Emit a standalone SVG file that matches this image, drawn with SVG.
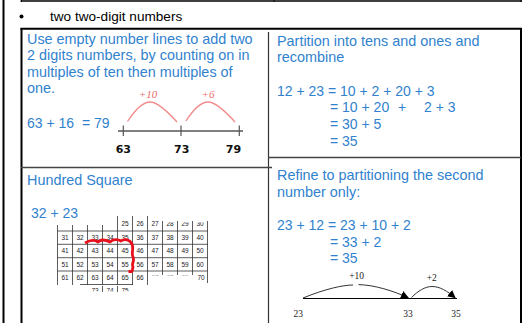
<svg xmlns="http://www.w3.org/2000/svg" width="524" height="323" viewBox="0 0 524 323">
<style>
.frame{stroke:#000;fill:none}
.blue{font-family:"Liberation Sans",Arial,sans-serif;fill:#3182ce;font-size:14.4px}
.math{font-family:"Liberation Sans",Arial,sans-serif;fill:#3182ce;font-size:14px}
.g{font-family:"Liberation Sans",Arial,sans-serif;font-size:6.5px;fill:#222;text-anchor:middle}
.gl{stroke:#333;stroke-width:0.8;fill:none}
.pink{stroke:#f28a8a;stroke-width:1.3;fill:none}
.red{font-family:"Liberation Serif","Times New Roman",serif;font-style:italic;font-size:11px;fill:#f06a6a;text-anchor:middle}
.bold{font-family:"DejaVu Sans",sans-serif;font-weight:bold;font-size:11px;fill:#111;text-anchor:middle}
.sm{font-family:"Liberation Serif","Times New Roman",serif;font-size:9.5px;fill:#222;text-anchor:middle}
.arc{stroke:#333;stroke-width:1;fill:none}
</style>
<defs>
<marker id="tri" markerUnits="userSpaceOnUse" markerWidth="8" markerHeight="8" refX="7" refY="4" orient="auto">
<path d="M0,0 L8,4 L0,8 z" fill="#000"/>
</marker>
<clipPath id="cTop"><rect x="160" y="222.2" width="50" height="10"/></clipPath>
<clipPath id="cMid"><rect x="150" y="272.5" width="45" height="3"/></clipPath>
<clipPath id="cBot"><rect x="85" y="285" width="45" height="6.2"/></clipPath>
</defs>

<!-- page frame -->
<g id="frame">
<line class="frame" x1="3.5" y1="0" x2="3.5" y2="323" stroke-width="2"/>
<line class="frame" x1="20.5" y1="1" x2="522" y2="1" stroke-width="1.5"/>
<line class="frame" x1="21.5" y1="0" x2="21.5" y2="2"/>
<line class="frame" x1="274" y1="0" x2="274" y2="2"/>
<line class="frame" x1="521" y1="0" x2="521" y2="2"/>
<circle cx="21.5" cy="16.5" r="2" fill="#000"/>
<text x="50" y="20.7" font-family="Liberation Sans, Arial, sans-serif" font-size="13.6" fill="#000">two two-digit numbers</text>
<line class="frame" x1="20.5" y1="28.7" x2="522" y2="28.7" stroke-width="2"/>
<line class="frame" x1="21.5" y1="28" x2="21.5" y2="323" stroke-width="2"/>
<line class="frame" x1="521" y1="28" x2="521" y2="323" stroke-width="2"/>
<line x1="268.5" y1="32" x2="268.5" y2="323" stroke="#333" stroke-width="1.2"/>
<line x1="21" y1="167.5" x2="272" y2="167.5" stroke="#444" stroke-width="1.3"/>
<line x1="268" y1="157.5" x2="521" y2="157.5" stroke="#444" stroke-width="1.3"/>
</g>

<!-- top left cell -->
<g id="empty-number-line">
<text class="blue" x="27" y="44">Use empty number lines to add two</text>
<text class="blue" x="27" y="60.3">2 digits numbers, by counting on in</text>
<text class="blue" x="27" y="76.5">multiples of ten then multiples of</text>
<text class="blue" x="27" y="92.7">one.</text>
<text class="math" x="27" y="127.7" xml:space="preserve">63 + 16  = 79</text>
<path class="pink" d="M127.5,121.5 C135,110 142,102 150,102 C158,102 168,112 177,122"/>
<path class="pink" d="M186,121 C193,110 200,102 208,102 C216,102 226,112 235,122"/>
<text class="red" x="148" y="97.5">+10</text>
<text class="red" x="208" y="97.5">+6</text>
<line x1="118" y1="131" x2="243" y2="131" stroke="#555" stroke-width="1.5"/>
<line x1="123.3" y1="125.5" x2="123.3" y2="136" stroke="#555" stroke-width="1.2"/>
<line x1="181" y1="125.5" x2="181" y2="136" stroke="#555" stroke-width="1.2"/>
<line x1="239.3" y1="125.5" x2="239.3" y2="136" stroke="#555" stroke-width="1.2"/>
<text class="bold" x="123.3" y="153">63</text>
<text class="bold" x="181.7" y="153">73</text>
<text class="bold" x="233.5" y="153">79</text>
</g>

<!-- top right cell -->
<g id="partition">
<text class="blue" x="277" y="45.7">Partition into tens and ones and</text>
<text class="blue" x="277" y="62.3">recombine</text>
<text class="math" x="277" y="95.7">12 + 23 = 10 + 2 + 20 + 3</text>
<text class="math" y="112.3"><tspan x="330">= 10 + 20</tspan><tspan x="398">+</tspan><tspan x="424">2 + 3</tspan></text>
<text class="math" x="330" y="129">= 30 + 5</text>
<text class="math" x="330" y="145.7">= 35</text>
</g>

<!-- bottom left cell -->
<g id="hundred-square">
<text class="blue" x="27" y="185">Hundred Square</text>
<text class="math" x="31" y="218.3" font-size="15.5">32 + 23</text>
<g class="gl">
<path d="M57.5,231 H208 M57.5,244.3 H208 M57.5,257.7 H208 M57.5,271 H207.5 M80,284.5 H133"/>
<path d="M57.5,225 V285 M72.5,225 V285 M87.5,225 V285 M102.5,225 V285"/>
<path d="M117.5,216 V285 M132.5,216 V285 M147.5,216 V285"/>
<path d="M162.5,221 V275 M177.5,221 V275 M192.5,221 V275 M207.5,221 V283"/>
<path d="M102.5,286 V292 M117.5,286 V292"/>
</g>
<g>
<text class="g" x="125" y="225.7">25</text><text class="g" x="140" y="225.7">26</text><text class="g" x="155" y="225.7">27</text>
<g clip-path="url(#cTop)"><text class="g" x="170" y="225.7">28</text><text class="g" x="185" y="225.7">29</text><text class="g" x="200" y="225.7">30</text></g>
<text class="g" x="65" y="239.5">31</text><text class="g" x="80" y="239.5">32</text><text class="g" x="95" y="239.5">33</text><text class="g" x="110" y="239.5">34</text><text class="g" x="125" y="239.5">35</text><text class="g" x="140" y="239.5">36</text><text class="g" x="155" y="239.5">37</text><text class="g" x="170" y="239.5">38</text><text class="g" x="185" y="239.5">39</text><text class="g" x="200" y="239.5">40</text>
<text class="g" x="65" y="253">41</text><text class="g" x="80" y="253">42</text><text class="g" x="95" y="253">43</text><text class="g" x="110" y="253">44</text><text class="g" x="125" y="253">45</text><text class="g" x="140" y="253">46</text><text class="g" x="155" y="253">47</text><text class="g" x="170" y="253">48</text><text class="g" x="185" y="253">49</text><text class="g" x="200" y="253">50</text>
<text class="g" x="65" y="266.5">51</text><text class="g" x="80" y="266.5">52</text><text class="g" x="95" y="266.5">53</text><text class="g" x="110" y="266.5">54</text><text class="g" x="125" y="266.5">55</text><text class="g" x="140" y="266.5">56</text><text class="g" x="155" y="266.5">57</text><text class="g" x="170" y="266.5">58</text><text class="g" x="185" y="266.5">59</text><text class="g" x="200" y="266.5">60</text>
<text class="g" x="65" y="280">61</text><text class="g" x="80" y="280">62</text><text class="g" x="95" y="280">63</text><text class="g" x="110" y="280">64</text><text class="g" x="125" y="280">65</text><text class="g" x="140" y="280">66</text>
<g clip-path="url(#cMid)"><text class="g" x="155" y="280">67</text><text class="g" x="170" y="280">68</text><text class="g" x="185" y="280">69</text></g>
<text class="g" x="201" y="280">70</text>
<g clip-path="url(#cBot)"><text class="g" x="95" y="293">73</text><text class="g" x="110" y="293">74</text><text class="g" x="125" y="293">75</text></g>
</g>
<path d="M85,243 C90,240 95,240 98,242 C101,239 106,240 110,242 C113,239 118,239 121,241 C125,238 130,240 132,244 C134,249 131,253 133,257 C135,261 131,264 133,267 L132,271.5 L128.5,271.5" fill="none" stroke="#e8101a" stroke-width="2.8" stroke-linejoin="round"/>
</g>

<!-- bottom right cell -->
<g id="refine">
<text class="blue" x="277" y="180">Refine to partitioning the second</text>
<text class="blue" x="277" y="196.7">number only:</text>
<text class="math" x="277" y="230">23 + 12 = 23 + 10 + 2</text>
<text class="math" x="330" y="246.7">= 33 + 2</text>
<text class="math" x="330" y="263.3">= 35</text>
</g>

<g id="connectors">
<line x1="303" y1="298.5" x2="457" y2="298.5" stroke="#000" stroke-width="1"/>
<path class="arc" d="M303,298 C325,289 343,285 353,285"/>
<path class="arc" d="M358.5,284.6 C375,285 393,291 408,297.5" marker-end="url(#tri)"/>
<path class="arc" d="M411.5,297.5 C418,291 425,286.5 432,286.5 C440,286.5 447,291 455,297.5" marker-end="url(#tri)"/>
<text class="sm" x="356.7" y="278.5" font-size="8.5">+10</text>
<text class="sm" x="431.7" y="280.5" font-size="8.5">+2</text>
<text class="sm" x="298.3" y="316.5">23</text>
<text class="sm" x="408" y="316.5">33</text>
<text class="sm" x="456" y="316.5">35</text>
</g>
</svg>
